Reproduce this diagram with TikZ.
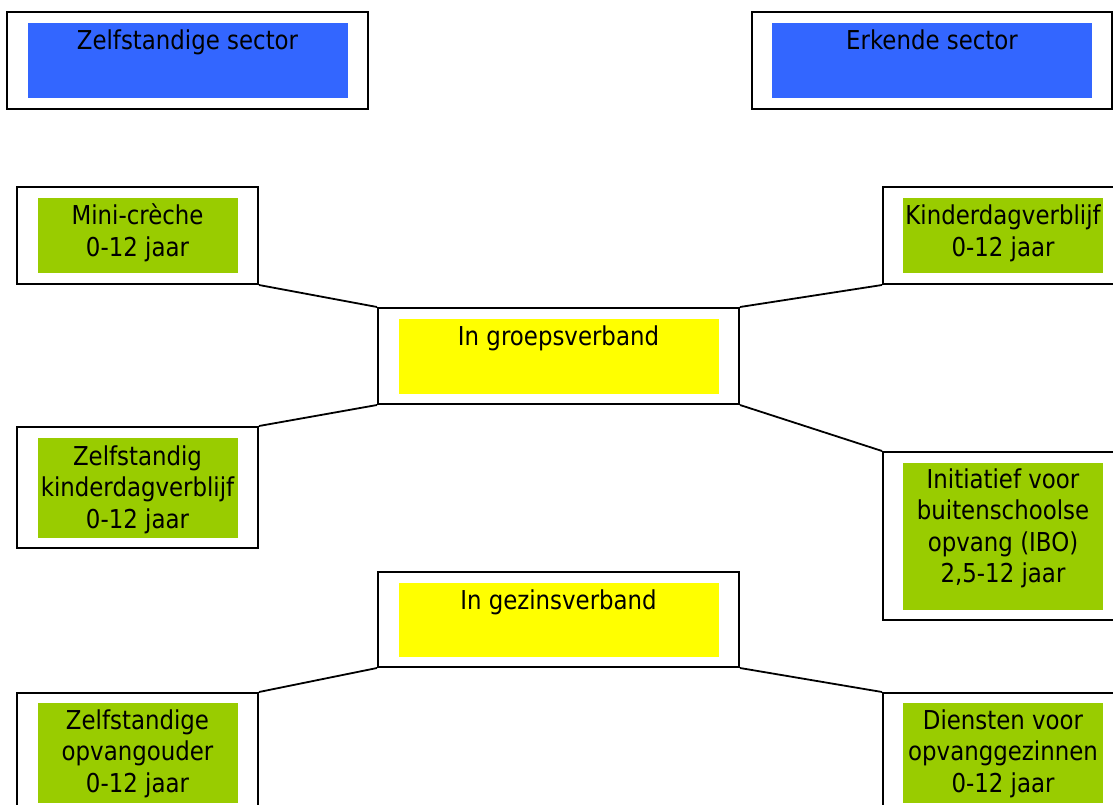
\documentclass[tikz,border=0pt]{standalone}
\usepackage{fontspec}
\setmainfont{DejaVu Sans}[FakeStretch=0.88]
\definecolor{sectorblue}{HTML}{3366FF}
\definecolor{agegreen}{HTML}{99CC00}
\definecolor{groupyellow}{HTML}{FFFF00}
\begin{document}
\begin{tikzpicture}[x=1pt,y=-1pt,
  frame/.style={draw, fill=white, line width=2pt, inner sep=0pt},
  panel/.style={inner sep=0pt, minimum width=#1},
  caption/.style={anchor=base, inner sep=0pt, align=center,
    font=\fontsize{26}{31.5}\selectfont},
  link/.style={line width=1.8pt}]
\useasboundingbox (0,0) rectangle (1113,805);

% Sector headers
\node[frame, minimum width=361pt, minimum height=97pt] (zs) at (187.5,60.5) {};
\node[frame, minimum width=360pt, minimum height=97pt] (es) at (932,60.5) {};
\node[panel=320pt, fill=sectorblue, minimum height=75pt] (zsin) at (zs.center) {};
\node[panel=320pt, fill=sectorblue, minimum height=75pt] (esin) at (es.center) {};
\node[caption] (zstext) at ([yshift=-27pt]zsin.north) {Zelfstandige sector};
\node[caption] (estext) at ([yshift=-27pt]esin.north) {Erkende sector};

% Middle boxes
\node[frame, minimum width=361pt, minimum height=96pt] (gv) at (558.5,356) {};
\node[frame, minimum width=361pt, minimum height=95pt] (gz) at (558.5,619.5) {};
\node[panel=320pt, fill=groupyellow, minimum height=75pt] (gvin) at (gv.center) {};
\node[panel=320pt, fill=groupyellow, minimum height=74pt] (gzin) at (gz.center) {};
\node[caption] (gvtext) at ([yshift=-27pt]gvin.north) {In groepsverband};
\node[caption] (gztext) at ([yshift=-27pt]gzin.north) {In gezinsverband};

% Left column (base = last line, so shift by 27pt + 31.5pt per extra line)
\node[frame, minimum width=241pt, minimum height=97pt] (mc) at (137.5,235.5) {};
\node[frame, minimum width=241pt, minimum height=121pt] (zkdv) at (137.5,487.5) {};
\node[frame, minimum width=241pt, minimum height=119pt] (zo) at (137.5,752.5) {};
\node[panel=200pt, fill=agegreen, minimum height=75pt] (mcin) at (mc.center) {};
\node[panel=200pt, fill=agegreen, minimum height=100pt] (zkdvin) at (zkdv.center) {};
\node[panel=200pt, fill=agegreen, minimum height=100pt] (zoin) at (zo.center) {};
\node[caption] (mctext) at ([yshift=-58.5pt]mcin.north) {Mini-crèche\\0-12 jaar};
\node[caption] (zkdvtext) at ([yshift=-91pt]zkdvin.north) {Zelfstandig\\kinderdagverblijf\\0-12 jaar};
\node[caption] (zotext) at ([yshift=-90pt]zoin.north) {Zelfstandige\\opvangouder\\0-12 jaar};

% Right column
\node[frame, minimum width=240pt, minimum height=97pt] (kdv) at (1003,235.5) {};
\node[frame, minimum width=240pt, minimum height=168pt] (ibo) at (1003,536) {};
\node[frame, minimum width=240pt, minimum height=119pt] (dv) at (1003,752.5) {};
\node[panel=200pt, fill=agegreen, minimum height=75pt] (kdvin) at (kdv.center) {};
\node[panel=200pt, fill=agegreen, minimum height=147pt] (iboin) at (ibo.center) {};
\node[panel=200pt, fill=agegreen, minimum height=100pt] (dvin) at (dv.center) {};
\node[caption] (kdvtext) at ([yshift=-58.5pt]kdvin.north) {Kinderdagverblijf\\0-12 jaar};
\node[caption] (ibotext) at ([yshift=-120.5pt]iboin.north) {Initiatief voor\\buitenschoolse\\opvang (IBO)\\2,5-12 jaar};
\node[caption] (dvtext) at ([yshift=-90pt]dvin.north) {Diensten voor\\opvanggezinnen\\0-12 jaar};

% Connectors
\draw[link] (mc.south east) -- (gv.north west);
\draw[link] (kdv.south west) -- (gv.north east);
\draw[link] (zkdv.north east) -- (gv.south west);
\draw[link] (ibo.north west) -- (gv.south east);
\draw[link] (gz.south west) -- (zo.north east);
\draw[link] (gz.south east) -- (dv.north west);
\end{tikzpicture}
\end{document}
